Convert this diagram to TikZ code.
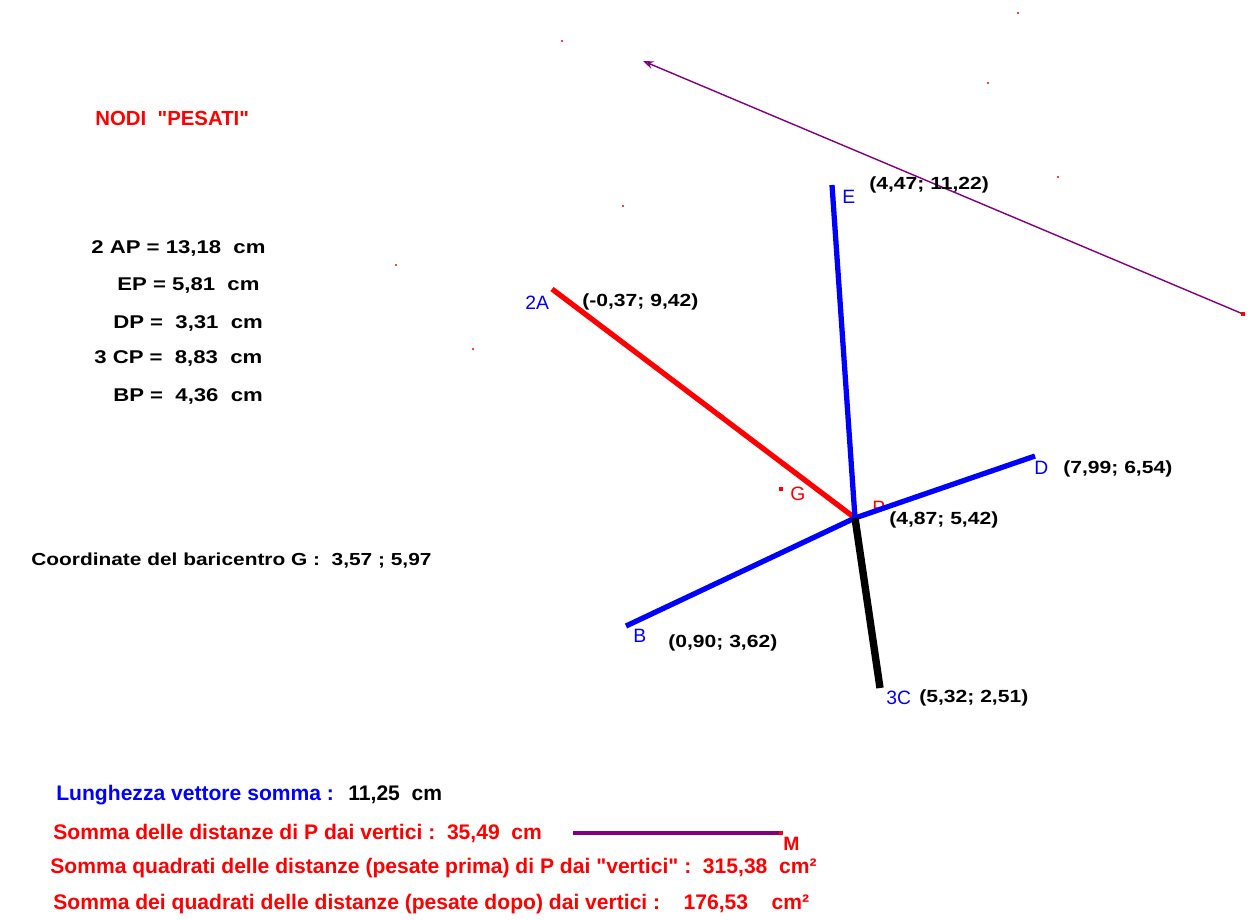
\documentclass[tikz,border=0pt]{standalone}
\usepackage{fontspec}
\setmainfont[Ligatures=TeXOff]{Liberation Sans}
\newfontfamily\widefont[FakeStretch=1.2,Ligatures=TeXOff]{Liberation Sans}
\usetikzlibrary{arrows.meta}
\definecolor{myblue}{RGB}{0,0,255}
\definecolor{myred}{RGB}{255,0,0}
\definecolor{mypurple}{RGB}{128,0,128}
\tikzset{
  val/.style={anchor=west, inner sep=0pt, font=\widefont\bfseries\fontsize{10.5}{12}\selectfont, text=black},
  coord/.style={anchor=west, inner sep=0pt, font=\widefont\bfseries\fontsize{10}{12}\selectfont, text=black},
  vlab/.style={anchor=west, inner sep=0pt, font=\fontsize{11}{12}\selectfont, text=myblue},
  bigred/.style={anchor=west, inner sep=0pt, font=\bfseries\fontsize{12}{14}\selectfont, text=myred},
  seg/.style={line width=3pt, line cap=butt},
  speck/.style={fill=myred, draw=none, circle, inner sep=0pt, minimum size=1.2pt},
}
\begin{document}
\begin{tikzpicture}[x=0.02cm, y=-0.02cm]
\useasboundingbox (0,0) rectangle (1250,919);
% points
\coordinate (P) at (855,518);
\coordinate (A) at (552,289);
\coordinate (E) at (832,185);
\coordinate (D) at (1035,456);
\coordinate (B) at (626,626);
\coordinate (C) at (880,688);
\coordinate (Vs) at (1243,314);
\coordinate (Ve) at (643,61);
\coordinate (M1) at (573,833);
\coordinate (M2) at (781,833);
% labels under the lines
\node[anchor=west, inner sep=0pt, font=\fontsize{11}{12}\selectfont, text=myred] (lP) at (872,508) {P};
% segments
\draw[seg, myred] (P) -- (A);
\draw[seg, myblue] (P) -- (E);
\draw[seg, myblue] (P) -- (D);
\draw[seg, myblue] (P) -- (B);
\draw[line width=4.2pt, black] (P) -- (C);
\draw[line width=0.8pt, mypurple, -{Stealth[length=6pt,width=4.5pt,open]}] (Vs) -- (Ve);
\node[fill=myred, inner sep=0pt, minimum size=2.2pt] (VsDot) at (Vs) {};
\draw[line width=2.3pt, mypurple] (M1) -- (M2);
\node[fill=myred, inner sep=0pt, minimum size=2.2pt] (MDot) at (M2) {};
% specks
\node[speck] (s1) at (562,41) {};
\node[speck] (s2) at (1018,13) {};
\node[speck] (s3) at (988,83) {};
\node[speck] (s4) at (1058,177) {};
\node[speck] (s5) at (623,206) {};
\node[speck] (s6) at (396,265) {};
\node[speck] (s7) at (473,349) {};
\node[fill=myred, inner sep=0pt, minimum size=2.5pt] (G) at (781,489) {};
% title
\node[anchor=west, inner sep=0pt, font=\bfseries\fontsize{11.6}{12}\selectfont, text=myred] (title) at (95,118) {NODI\ \ "PESATI"};
% distances
\node[val] (t1) at (91,248) {2 AP = 13,18\ \ cm};
\node[val] (t2) at (117,285) {EP = 5,81\ \ cm};
\node[val] (t3) at (113,323) {DP =\ \ 3,31\ \ cm};
\node[val] (t4) at (94,358) {3 CP =\ \ 8,83\ \ cm};
\node[val] (t5) at (113,396) {BP =\ \ 4,36\ \ cm};
\node[anchor=west, inner sep=0pt, font=\widefont\bfseries\fontsize{9.9}{12}\selectfont, text=black] (bar) at (31,561) {Coordinate del baricentro G :\ \ 3,57 ; 5,97};
% vertex labels
\node[vlab] (lA) at (525,303) {2A};
\node[coord] (cA) at (582,302) {(-0,37; 9,42)};
\node[vlab] (lE) at (842,197) {E};
\node[coord] (cE) at (869,185) {(4,47; 11,22)};
\node[vlab] (lD) at (1034,468) {D};
\node[coord] (cD) at (1063,469) {(7,99; 6,54)};
\node[anchor=west, inner sep=0pt, font=\fontsize{11}{12}\selectfont, text=myred] (lG) at (790,494) {G};
\node[coord] (cP) at (889,520) {(4,87; 5,42)};
\node[vlab] (lB) at (633,636) {B};
\node[coord] (cB) at (668,643) {(0,90; 3,62)};
\node[vlab] (lC) at (886,698) {3C};
\node[coord] (cC) at (919,698) {(5,32; 2,51)};
% bottom texts
\node[anchor=west, inner sep=0pt, font=\bfseries\fontsize{12}{14}\selectfont, text=myblue] (lv) at (56,795) {Lunghezza vettore somma :};
\node[anchor=west, inner sep=0pt, font=\bfseries\fontsize{12}{14}\selectfont, text=black] (lvv) at (348,795) {11,25\ \ cm};
\node[bigred] (r1) at (53,833) {Somma delle distanze di P dai vertici :\ \ 35,49\ \ cm};
\node[anchor=west, inner sep=0pt, font=\bfseries\fontsize{11}{12}\selectfont, text=myred] (lM) at (783,844) {M};
\node[bigred] (r2) at (50,868) {Somma quadrati delle distanze (pesate prima) di P dai "vertici" :\ \ 315,38\ \ cm²};
\node[bigred] (r3) at (53,904) {Somma dei quadrati delle distanze (pesate dopo) dai vertici :\ \ \ \ 176,53\ \ \ \ cm²};
\end{tikzpicture}
\end{document}
